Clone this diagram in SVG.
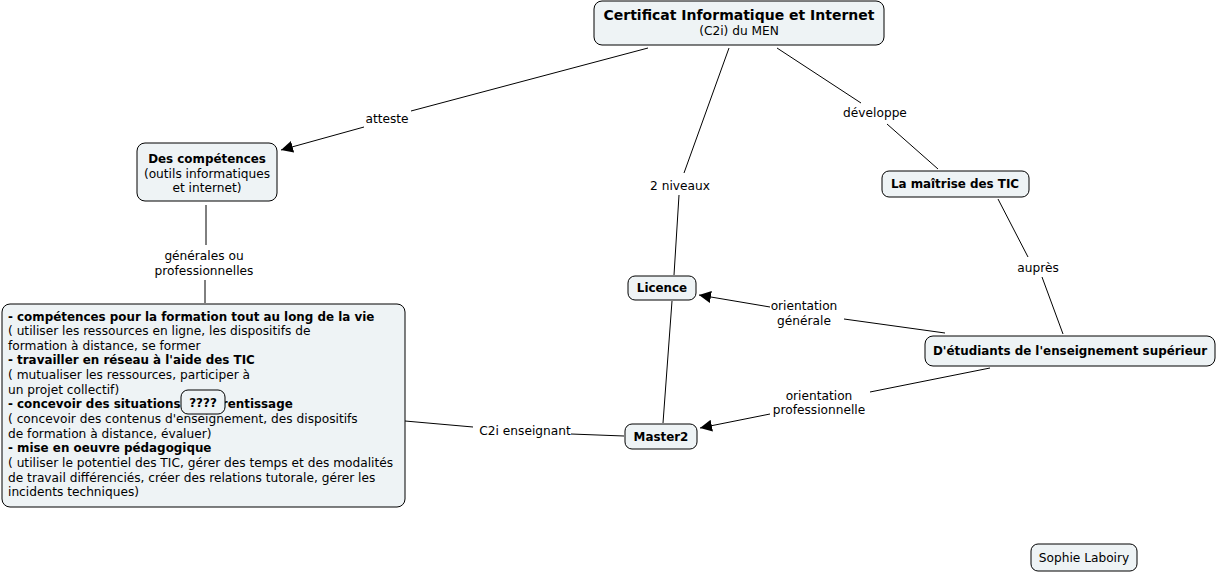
<svg xmlns="http://www.w3.org/2000/svg" width="1217" height="574" viewBox="0 0 1217 574">
<defs>
<style>
text{font-family:"DejaVu Sans","Verdana",sans-serif;font-size:12.2px;fill:#000}
.b{font-weight:bold;font-size:11.9px}
.n{fill:#eef3f5;stroke:#000;stroke-width:1}
.c line{stroke:#000;stroke-width:1}
.m{text-anchor:middle}
</style>
<marker id="ah" viewBox="0 0 10 10" refX="10" refY="5" markerWidth="12" markerHeight="12" markerUnits="userSpaceOnUse" orient="auto">
<path d="M0,0 L10,5 L0,10 z" fill="#000"/>
</marker>
</defs>
<rect width="1217" height="574" fill="#fff"/>
<g class="c" id="connectors">
<line x1="648" y1="48" x2="411" y2="111"/>
<line x1="364" y1="127" x2="281" y2="150" marker-end="url(#ah)"/>
<line x1="729" y1="48" x2="684" y2="173"/>
<line x1="679" y1="195" x2="674" y2="275"/>
<line x1="777" y1="48" x2="861" y2="103"/>
<line x1="887" y1="124" x2="938" y2="169"/>
<line x1="206" y1="205" x2="206" y2="245"/>
<line x1="205" y1="280" x2="205" y2="303"/>
<line x1="998" y1="199" x2="1028" y2="257"/>
<line x1="1042" y1="277" x2="1063" y2="334"/>
<line x1="945" y1="333" x2="844" y2="319"/>
<line x1="770" y1="307" x2="699" y2="295" marker-end="url(#ah)"/>
<line x1="990" y1="368" x2="870" y2="392"/>
<line x1="770" y1="414" x2="700" y2="428" marker-end="url(#ah)"/>
<line x1="672" y1="301" x2="663" y2="423"/>
<line x1="405" y1="421" x2="473" y2="427"/>
<line x1="571" y1="434" x2="624" y2="436"/>
<text x="387" y="123" class="m">atteste</text>
<text x="680" y="190" class="m">2 niveaux</text>
<text x="875" y="117" class="m">développe</text>
<text x="204" y="260" class="m">générales ou</text>
<text x="204" y="275" class="m">professionnelles</text>
<text x="1038" y="272" class="m">auprès</text>
<text x="804" y="310" class="m">orientation</text>
<text x="804" y="325" class="m">générale</text>
<text x="819" y="400" class="m">orientation</text>
<text x="819" y="414" class="m">professionnelle</text>
<text x="525" y="435" class="m">C2i enseignant</text>
</g>
<g id="n-c2i">
<rect class="n" x="594" y="1" width="290" height="44" rx="8"/>
<text x="739" y="20" class="m b" style="font-size:14px">Certificat Informatique et Internet</text>
<text x="739" y="35" class="m">(C2i) du MEN</text>
</g>
<g id="n-competences">
<rect class="n" x="137" y="143" width="140" height="58" rx="8"/>
<text x="207" y="163" class="m b">Des compétences</text>
<text x="207" y="178" class="m">(outils informatiques</text>
<text x="207" y="192" class="m">et internet)</text>
</g>
<g id="n-liste">
<rect class="n" x="2" y="304" width="403" height="203" rx="8"/>
<text x="8" y="321" class="b">- compétences pour la formation tout au long de la vie</text>
<text x="8" y="335">( utiliser les ressources en ligne, les dispositifs de</text>
<text x="8" y="350">formation à distance, se former</text>
<text x="8" y="364" class="b">- travailler en réseau à l'aide des TIC</text>
<text x="8" y="379">( mutualiser les ressources, participer à</text>
<text x="8" y="394">un projet collectif)</text>
<text x="8" y="408" class="b">- concevoir des situations d'apprentissage</text>
<text x="8" y="423">( concevoir des contenus d'enseignement, des dispositifs</text>
<text x="8" y="438">de formation à distance, évaluer)</text>
<text x="8" y="452" class="b">- mise en oeuvre pédagogique</text>
<text x="8" y="467">( utiliser le potentiel des TIC, gérer des temps et des modalités</text>
<text x="8" y="482">de travail différenciés, créer des relations tutorale, gérer les</text>
<text x="8" y="496">incidents techniques)</text>
</g>
<g id="n-qqq">
<rect class="n" x="181" y="390" width="44" height="24" rx="7"/>
<text x="203" y="407" class="m b">????</text>
</g>
<g id="n-maitrise">
<rect class="n" x="882" y="171" width="147" height="26" rx="7"/>
<text x="955" y="188" class="m b">La maîtrise des TIC</text>
</g>
<g id="n-etudiants">
<rect class="n" x="925" y="336" width="290" height="30" rx="8"/>
<text x="1070" y="355" class="m b">D'étudiants de l'enseignement supérieur</text>
</g>
<g id="n-licence">
<rect class="n" x="628" y="276" width="68" height="24" rx="7"/>
<text x="662" y="292" class="m b">Licence</text>
</g>
<g id="n-master2">
<rect class="n" x="625" y="424" width="72" height="25" rx="7"/>
<text x="661" y="441" class="m b">Master2</text>
</g>
<g id="n-auteur">
<rect class="n" x="1031" y="544" width="106" height="27" rx="7"/>
<text x="1084" y="562" class="m">Sophie Laboiry</text>
</g>
</svg>
